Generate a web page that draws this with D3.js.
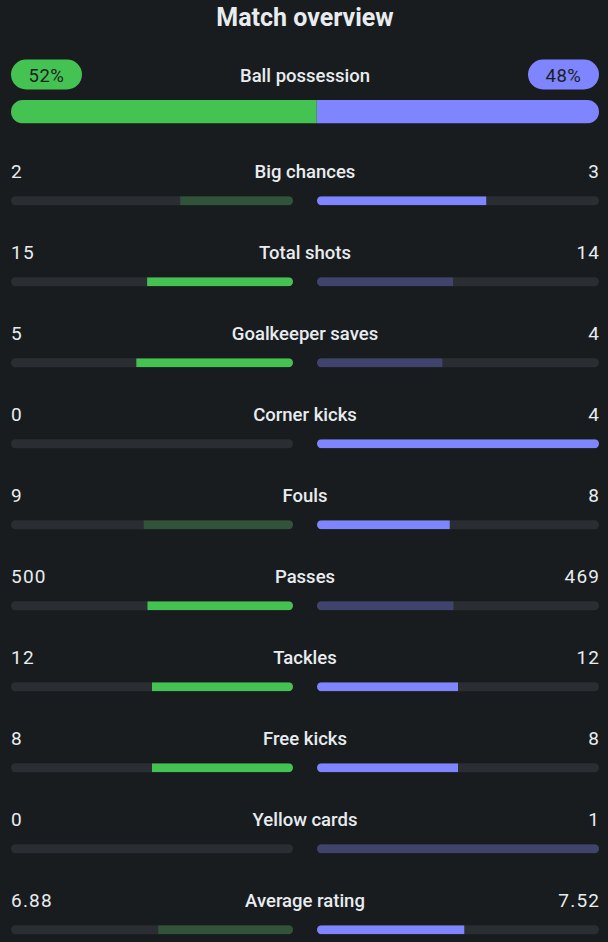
<!DOCTYPE html>
<html>
<head>
<meta charset="utf-8">
<script src="https://cdn.jsdelivr.net/npm/d3@7"></script>
<style>
  html, body { margin: 0; padding: 0; background: #181c1f; }
  svg { display: block; font-family: Roboto, "Noto Sans", sans-serif; }
</style>
</head>
<body>
<div id="chart"></div>
<script>
// ---- data ----
const teams = ["Home", "Away"];
const possession = [52, 48];

const statLabels = [
  "Big chances", "Total shots", "Goalkeeper saves", "Corner kicks", "Fouls",
  "Passes", "Tackles", "Free kicks", "Yellow cards", "Average rating"
];
const homeValues = [2, 15, 5, 0, 9, 500, 12, 8, 0, 6.88];
const awayValues = [3, 14, 4, 4, 8, 469, 12, 8, 1, 7.52];
// stats where the smaller number is the better one
const lowerIsBetter = ["Fouls", "Yellow cards"];

// ---- setup ----
const width = 608, height = 942;
const left = 11, right = 599, mid = 305;
const gap = 12;

const col = {
  bg: "#181c1f",
  text: "#e9ecef",
  track: "#2a2e32",
  home: "#44c252",
  homeDim: "#30533a",
  away: "#7f84ff",
  awayDim: "#40446c",
  pillText: "#1b1f22"
};

const svg = d3.select("#chart").append("svg")
  .attr("width", width)
  .attr("height", height);

svg.append("rect").attr("width", width).attr("height", height).attr("fill", col.bg);
const defs = svg.append("defs");

svg.append("text")
  .attr("x", mid).attr("y", 26)
  .attr("text-anchor", "middle")
  .attr("fill", col.text)
  .style("font-size", "25px").style("font-weight", 700)
  .text("Match overview");

// ---- ball possession ----
const px = d3.scaleLinear().domain([0, 100]).range([left, right]);

const pillW = 71, pillH = 30, pillY = 59.5;
[0, 1].forEach(i => {
  const x0 = i === 0 ? left : right - pillW;
  svg.append("rect")
    .attr("x", x0).attr("y", pillY)
    .attr("width", pillW).attr("height", pillH)
    .attr("rx", pillH / 2)
    .attr("fill", i === 0 ? col.home : col.away);
  svg.append("text")
    .attr("x", x0 + pillW / 2).attr("y", pillY + 22.5)
    .attr("text-anchor", "middle")
    .attr("fill", col.pillText)
    .style("font-size", "18.5px")
    .style("letter-spacing", "0.5px")
    .text(possession[i] + "%");
});

svg.append("text")
  .attr("x", mid).attr("y", 82.3)
  .attr("text-anchor", "middle")
  .attr("fill", col.text)
  .style("font-size", "18.5px").style("font-weight", 500)
  .text("Ball possession");

const posY = 100, posH = 23.5;
defs.append("clipPath").attr("id", "clip-pos")
  .append("rect")
  .attr("x", left).attr("y", posY)
  .attr("width", right - left).attr("height", posH)
  .attr("rx", posH / 2);

const posG = svg.append("g").attr("clip-path", "url(#clip-pos)");
posG.append("rect")
  .attr("x", px(0)).attr("y", posY)
  .attr("width", px(possession[0]) - px(0)).attr("height", posH)
  .attr("fill", col.home);
posG.append("rect")
  .attr("x", px(possession[0])).attr("y", posY)
  .attr("width", px(100) - px(possession[0])).attr("height", posH)
  .attr("fill", col.away);

// ---- stat rows ----
const rowY = d3.scalePoint().domain(statLabels).range([178.3, 907.3]);
const trackW = mid - gap - left;
const barH = 9, barOff = 18;

const fmt = v => Number.isInteger(v) ? String(v) : v.toFixed(2);

const rows = svg.append("g").selectAll("g")
  .data(statLabels.map((label, i) => ({
    label, i, home: homeValues[i], away: awayValues[i]
  })))
  .join("g")
  .attr("transform", d => `translate(0,${rowY(d.label)})`);

rows.append("text")
  .attr("x", mid).attr("text-anchor", "middle")
  .attr("fill", col.text)
  .style("font-size", "18.5px").style("font-weight", 500)
  .text(d => d.label);

rows.append("text")
  .attr("x", left)
  .attr("fill", col.text)
  .style("font-size", "19px")
  .style("letter-spacing", "1.2px")
  .text(d => fmt(d.home));

rows.append("text")
  .attr("x", right + 1.2).attr("text-anchor", "end")
  .attr("fill", col.text)
  .style("font-size", "19px")
  .style("letter-spacing", "1.2px")
  .text(d => fmt(d.away));

rows.each(function (d) {
  const g = d3.select(this);
  const total = d.home + d.away;
  const x = d3.scaleLinear().domain([0, total || 1]).range([0, trackW]);

  const low = lowerIsBetter.includes(d.label);
  const homeWins = low ? d.home <= d.away : d.home >= d.away;
  const awayWins = low ? d.away <= d.home : d.away >= d.home;

  const sides = [
    { side: 0, x0: left, v: d.home, c: homeWins ? col.home : col.homeDim },
    { side: 1, x0: mid + gap, v: d.away, c: awayWins ? col.away : col.awayDim }
  ];

  sides.forEach(s => {
    const id = `clip-${d.i}-${s.side}`;
    defs.append("clipPath").attr("id", id)
      .append("rect")
      .attr("x", s.x0).attr("y", rowY(d.label) + barOff)
      .attr("width", trackW).attr("height", barH)
      .attr("rx", barH / 2);

    g.append("rect")
      .attr("x", s.x0).attr("y", barOff)
      .attr("width", trackW).attr("height", barH)
      .attr("rx", barH / 2)
      .attr("fill", col.track);

    const w = x(s.v);
    g.append("g")
      .attr("clip-path", `url(#${id})`)
      .attr("transform", `translate(0,${-rowY(d.label)})`)
      .append("rect")
      .attr("x", s.side === 0 ? s.x0 + trackW - w : s.x0)
      .attr("y", rowY(d.label) + barOff)
      .attr("width", w).attr("height", barH)
      .attr("fill", s.c);
  });
});
</script>
</body>
</html>
